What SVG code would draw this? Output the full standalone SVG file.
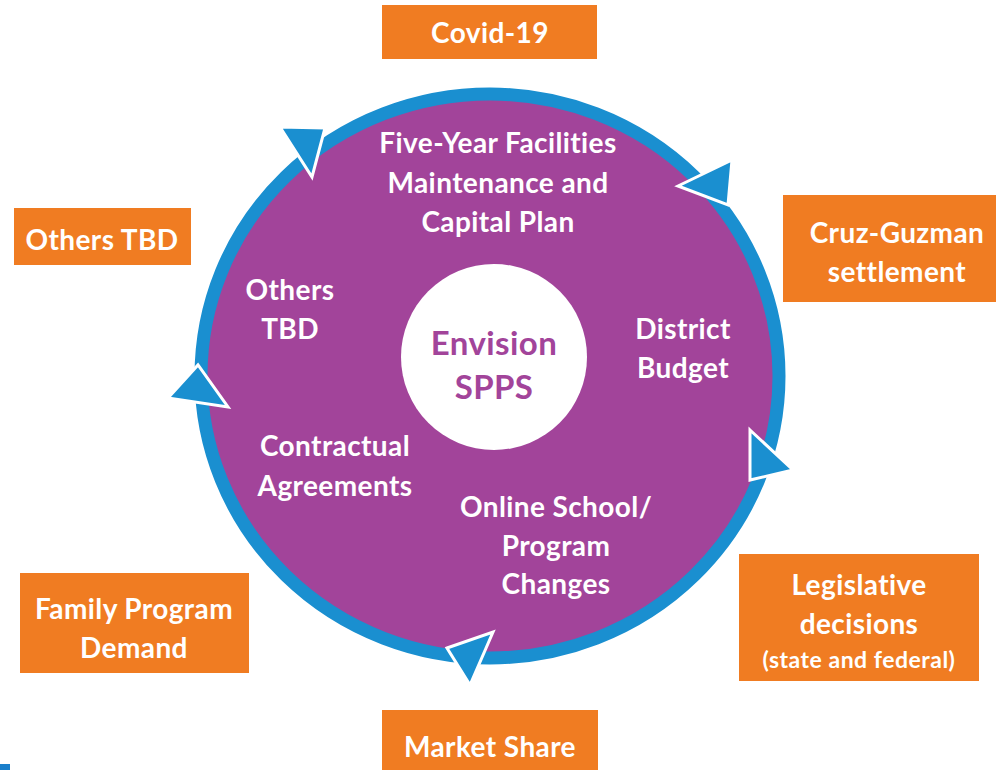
<svg xmlns="http://www.w3.org/2000/svg" width="996" height="770" viewBox="0 0 996 770">
<style>
.box{fill:#F07C22}
.bt{font-family:Lato,"Open Sans","Liberation Sans",sans-serif;font-weight:700;font-size:28px;letter-spacing:0.4px;fill:#fff;text-anchor:middle}
.sm{font-size:23px;letter-spacing:0.5px}
.ct{fill:#A2449A;font-size:33px}
.arr{fill:#1A8FD0;stroke:#fff;stroke-width:3;stroke-linejoin:miter}
</style>
<rect width="996" height="770" fill="#fff"/>
<g id="cycle">
<ellipse cx="490" cy="376" rx="289" ry="282" fill="#A2449A" stroke="#1A8FD0" stroke-width="13"/>
<circle cx="494" cy="357" r="93" fill="#fff"/>
</g>
<g id="center"><text class="bt ct" x="494" y="355">Envision</text><text class="bt ct" x="494" y="399">SPPS</text></g>
<g id="facilities"><text class="bt" x="498" y="153">Five-Year Facilities</text><text class="bt" x="498" y="193">Maintenance and</text><text class="bt" x="498" y="232">Capital Plan</text></g>
<g id="others-in"><text class="bt" x="290" y="300">Others</text><text class="bt" x="290" y="339">TBD</text></g>
<g id="budget"><text class="bt" x="683" y="339">District</text><text class="bt" x="683" y="378">Budget</text></g>
<g id="contractual"><text class="bt" x="335" y="456">Contractual</text><text class="bt" x="335" y="496">Agreements</text></g>
<g id="online"><text class="bt" x="556" y="517">Online School/</text><text class="bt" x="556" y="556">Program</text><text class="bt" x="556" y="594">Changes</text></g>
<g id="connectors">
<polygon class="arr" points="280,127 325,128 312,177"/>
<polygon class="arr" points="678,186 732,160 728,205"/>
<polygon class="arr" points="750,430 793,470 750,480"/>
<polygon class="arr" points="447,648 493,632 470,685"/>
<polygon class="arr" points="168,398 198,365 228,407"/>
</g>
<g id="covid"><rect class="box" x="382" y="5" width="215" height="54"/><text class="bt" x="490" y="43">Covid-19</text></g>
<g id="others-tbd"><rect class="box" x="14" y="208" width="177" height="57"/><text class="bt" x="102" y="250">Others TBD</text></g>
<g id="cruz"><rect class="box" x="783" y="195" width="213" height="107"/><text class="bt" x="897" y="243">Cruz-Guzman</text><text class="bt" x="897" y="282">settlement</text></g>
<g id="family"><rect class="box" x="20" y="573" width="229" height="100"/><text class="bt" x="134" y="619">Family Program</text><text class="bt" x="134" y="658">Demand</text></g>
<g id="legislative"><rect class="box" x="739" y="554" width="240" height="127"/><text class="bt" x="859" y="595">Legislative</text><text class="bt" x="859" y="634">decisions</text><text class="bt sm" x="859" y="668">(state and federal)</text></g>
<g id="market"><rect class="box" x="382" y="710" width="216" height="60"/><text class="bt" x="490" y="757">Market Share</text></g>
<rect x="0" y="764" width="10" height="6" fill="#1A7FCB"/>
</svg>
